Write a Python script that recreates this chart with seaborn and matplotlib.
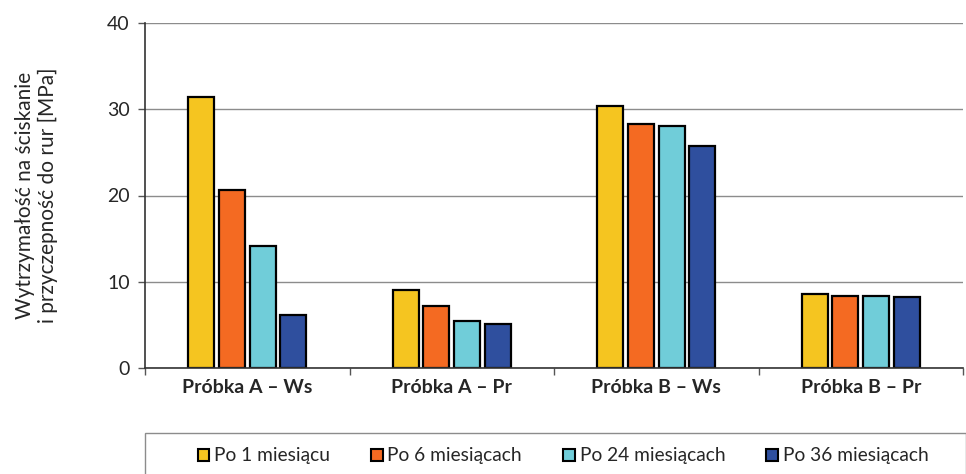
import matplotlib
matplotlib.use("Agg")
import matplotlib.pyplot as plt
import seaborn as sns
import pandas as pd
from matplotlib.patches import Rectangle, Patch

categories = ["Próbka A – Ws", "Próbka A – Pr", "Próbka B – Ws", "Próbka B – Pr"]
series = ["Po 1 miesiącu", "Po 6 miesiącach", "Po 24 miesiącach", "Po 36 miesiącach"]
po_1 = [31.4, 9.0, 30.4, 8.6]
po_6 = [20.6, 7.2, 28.3, 8.4]
po_24 = [14.1, 5.4, 28.1, 8.4]
po_36 = [6.1, 5.1, 25.7, 8.2]
colors = ["#F5C520", "#F46A22", "#70CDD9", "#2F4F9E"]
y_ticks = [0, 10, 20, 30, 40]
y_label = "Wytrzymałość na ściskanie\ni przyczepność do rur [MPa]"

rows = []
for s, vals in zip(series, [po_1, po_6, po_24, po_36]):
    for c, v in zip(categories, vals):
        rows.append({"cat": c, "series": s, "val": v})
df = pd.DataFrame(rows)

sns.set_theme(style="white")
plt.rcParams["font.family"] = ["Lato", "DejaVu Sans"]

fig = plt.figure(figsize=(9.66, 4.74), dpi=100)
ax = fig.add_axes([145 / 966, 1 - 368 / 474, (963 - 145) / 966, (368 - 23) / 474])

sns.barplot(data=df, x="cat", y="val", hue="series", order=categories,
            hue_order=series, palette=colors, width=0.6, gap=0.15,
            edgecolor="black", linewidth=1.6, saturation=1, ax=ax, legend=False)

ax.set_ylim(0, 40)
ax.set_xlim(-0.5, 3.5)
ax.set_yticks(y_ticks)
ax.set_yticklabels([str(t) for t in y_ticks], fontsize=14)
ax.yaxis.grid(True, color="#8c8c8c", linewidth=1)
ax.set_axisbelow(True)
ax.set_xlabel("")
ax.set_ylabel(y_label, fontsize=15, linespacing=1.15)
ax.yaxis.set_label_coords((58 - 145) / 818, 0.5)

ax.set_xticks(range(len(categories)))
ax.set_xticklabels(categories, fontsize=14, fontweight="bold")
ax.tick_params(axis="x", which="major", length=0, pad=8)
ax.set_xticks([-0.5, 0.5, 1.5, 2.5, 3.5], minor=True)
ax.tick_params(axis="x", which="minor", length=5, width=1, color="#555555", direction="out", bottom=True)
ax.tick_params(axis="y", length=5, width=1, color="#555555", direction="out", left=True, pad=6)

for side in ["top", "right"]:
    ax.spines[side].set_visible(False)
ax.spines["left"].set_color("#333333")
ax.spines["bottom"].set_color("#333333")
ax.spines["left"].set_linewidth(1.2)
ax.spines["bottom"].set_linewidth(1.2)

# legend box
fig.patches.append(Rectangle((145 / 966, -0.05), (966 - 145) / 966, 0.05 + (474 - 433) / 474,
                             transform=fig.transFigure, facecolor="white",
                             edgecolor="#8c8c8c", linewidth=1, zorder=0))
handles = [Patch(facecolor=c, edgecolor="black", linewidth=1.5) for c in colors]
fig.legend(handles, series, loc="center", bbox_to_anchor=(563 / 966, 1 - 456 / 474),
           ncol=4, frameon=False, fontsize=13.8, handlelength=0.6, handleheight=0.6,
           handletextpad=0.25, columnspacing=2.15)

fig.savefig("out.png", dpi=100)
